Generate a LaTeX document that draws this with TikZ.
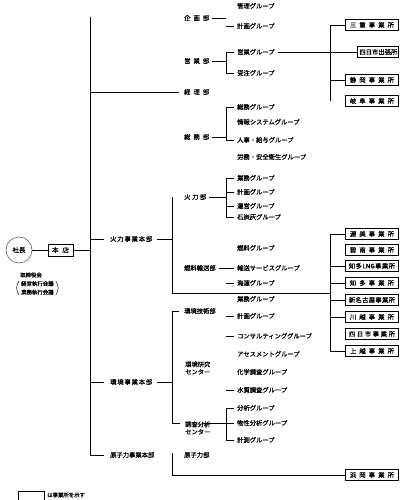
\documentclass[tikz,border=0pt]{standalone}
\usepackage{fontspec}
\setmainfont{Noto Sans CJK JP}[FakeBold=0.6]
\newcommand\sprd[2]{\makebox[#1][s]{#2}}
\begin{document}
\begin{tikzpicture}[x=1pt,y=-1pt,
  txt/.style={anchor=west, inner sep=0pt, font=\fontsize{6.3}{7.5}\selectfont},
  dept/.style={txt},
  grp/.style={txt},
  small/.style={anchor=west, inner sep=0pt, font=\fontsize{5.4}{8.5}\selectfont},
  office/.style={draw, line width=0.9pt, minimum width=53pt, minimum height=11pt, inner sep=0pt, anchor=west, font=\fontsize{6.3}{7}\selectfont},
  ln/.style={line width=0.9pt}]
\useasboundingbox (0,0) rectangle (407,500);
\fill[white] (0,0) rectangle (407,500);

% bus coordinates
\coordinate (mtop) at (90,17);
\coordinate (gx) at (226,0);
\coordinate (hx) at (172,0);
\coordinate (ux) at (330,0);

% president and head office
\node[circle, draw=black!70, line width=0.5pt, minimum size=26pt, inner sep=0pt, font=\fontsize{6.5}{7}\selectfont] (shacho) at (19,250) {社長};
\node[draw, line width=0.9pt, minimum width=25pt, minimum height=12pt, inner sep=0pt, font=\fontsize{6.5}{7}\selectfont] (honten) at (60.5,250) {\sprd{17pt}{本\hfill 店}};
\draw[ln] (shacho) -- (honten);
\draw[ln] (honten.east) -- (honten.east -| mtop);
\node[small] (torishimari) at (20,275) {取締役会};
\node[small, align=left] (kaigi) at (21,288) {経営執行会議\\業務執行会議};
\draw[line width=0.5pt] ([xshift=-2pt]kaigi.north west) to[bend right=35] ([xshift=-2pt]kaigi.south west);
\draw[line width=0.5pt] ([xshift=2pt]kaigi.north east) to[bend left=35] ([xshift=2pt]kaigi.south east);

% headquarters level nodes
\node[dept] (kh) at (110,239) {\sprd{42pt}{火\hfill 力\hfill 事\hfill 業\hfill 本\hfill 部}};
\node[dept] (vh) at (110,382) {\sprd{42pt}{環\hfill 境\hfill 事\hfill 業\hfill 本\hfill 部}};
\node[dept] (gh) at (110,455) {\sprd{44pt}{原\hfill 子\hfill 力\hfill 事\hfill 業\hfill 本\hfill 部}};

% main vertical
\draw[ln] (mtop) -- (mtop |- gh.west) -- ([xshift=-6pt]gh.west);

% departments (top)
\node[dept] (kikaku) at (184,18) {\sprd{25pt}{企\hfill 画\hfill 部}};
\node[dept] (eigyo) at (184,61) {\sprd{25pt}{営\hfill 業\hfill 部}};
\node[dept] (keiri) at (184,92) {\sprd{25pt}{経\hfill 理\hfill 部}};
\node[dept] (somu) at (184,137) {\sprd{25pt}{総\hfill 務\hfill 部}};

% groups (top)
\node[grp] (k1) at (237,6) {管理グループ};
\node[grp] (k2) at (237,26) {計画グループ};
\node[grp] (e1) at (237,52) {営業グループ};
\node[grp] (e2) at (237,73) {受注グループ};
\node[grp] (s1) at (237,107) {総務グループ};
\node[grp] (s2) at (237,122) {情報システムグループ};
\node[grp] (s3) at (237,140) {人事・給与グループ};
\node[grp] (s4) at (237,157) {労務・安全衛生グループ};

\draw[ln] ([xshift=3pt]kikaku.east) -- (kikaku.east -| gx);
\draw[ln] ([xshift=-11pt]k2.west) -- ([xshift=-3pt]k2.west);
\draw[ln] ([xshift=3pt]eigyo.east) -- (eigyo.east -| gx);
\draw[ln] ([xshift=-3pt]e1.west) -- (e1.west -| gx) -- (e2.west -| gx) -- ([xshift=-3pt]e2.west);
\draw[ln] (keiri.west -| mtop) -- ([xshift=-5pt]keiri.west);
\draw[ln] ([xshift=3pt]somu.east) -- (somu.east -| gx);
\draw[ln] ([xshift=-3pt]s1.west) -- (s1.west -| gx) -- (s3.west -| gx) -- ([xshift=-3pt]s3.west);

% upper offices
\node[office] (o1) at (345,25) {\sprd{44pt}{三\hfill 重\hfill 事\hfill 業\hfill 所}};
\node[office, minimum width=41pt] (o2) at (357,52) {\sprd{37pt}{四\hfill 日\hfill 市\hfill 出\hfill 張\hfill 所}};
\node[office] (o3) at (345,80) {\sprd{44pt}{静\hfill 岡\hfill 事\hfill 業\hfill 所}};
\node[office] (o4) at (345,101) {\sprd{44pt}{岐\hfill 阜\hfill 事\hfill 業\hfill 所}};
\draw[ln] (o1.west) -- (o1.west -| ux) -- (o4.west -| ux);
\draw[ln] (o3.west -| ux) -- (o3.west);
\draw[ln] ([xshift=3pt]e1.east) -- (o2.west);

% thermal
\node[dept] (kb) at (184,197) {\sprd{22pt}{火\hfill 力\hfill 部}};
\node[dept] (nb) at (184,268) {燃料輸送部};
\node[grp] (kb1) at (237,178) {業務グループ};
\node[grp] (kb2) at (237,192) {計画グループ};
\node[grp] (kb3) at (237,206) {運営グループ};
\node[grp] (kb4) at (237,217) {石炭灰グループ};
\node[grp] (nb1) at (237,248) {燃料グループ};
\node[grp] (nb2) at (237,268) {輸送サービスグループ};
\node[grp] (nb3) at (237,283) {海運グループ};
\coordinate (kj) at (330,293);

\draw[ln] (kh.west -| mtop) -- ([xshift=-6pt]kh.west);
\draw[ln] ([xshift=5pt]kh.east) -- (kh.east -| hx);
\draw[ln] (kb.west -| hx) -- (hx |- kj) -- (kj);
\draw[ln] ([xshift=3pt]kb.east) -- (kb.east -| gx);
\draw[ln] ([xshift=-3pt]kb1.west) -- (kb1.west -| gx) -- (kb4.west -| gx) -- ([xshift=-3pt]kb4.west);
\draw[ln] (kb2.west -| gx) -- ([xshift=-3pt]kb2.west);
\draw[ln] (kb3.west -| gx) -- ([xshift=-3pt]kb3.west);
\draw[ln] ([xshift=3pt]nb.east) -- ([xshift=-3pt]nb2.west);
\draw[ln] ([xshift=-11pt]nb3.west) -- ([xshift=-3pt]nb3.west);

% lower offices
\node[office] (p1) at (345,234) {\sprd{44pt}{渥\hfill 美\hfill 事\hfill 業\hfill 所}};
\node[office] (p2) at (345,250) {\sprd{44pt}{碧\hfill 南\hfill 事\hfill 業\hfill 所}};
\node[office] (p3) at (345,266) {\sprd{46pt}{知\hfill 多\hfill LNG\hfill 事\hfill 業\hfill 所}};
\node[office] (p4) at (345,283) {\sprd{44pt}{知\hfill 多\hfill 事\hfill 業\hfill 所}};
\node[office] (p5) at (345,300) {\sprd{46pt}{新\hfill 名\hfill 古\hfill 屋\hfill 事\hfill 業\hfill 所}};
\node[office] (p6) at (345,317) {\sprd{44pt}{川\hfill 越\hfill 事\hfill 業\hfill 所}};
\node[office] (p7) at (345,334) {\sprd{46pt}{四\hfill 日\hfill 市\hfill 事\hfill 業\hfill 所}};
\node[office] (p8) at (345,351) {\sprd{44pt}{上\hfill 越\hfill 事\hfill 業\hfill 所}};
\draw[ln] (p1.west) -- (p1.west -| ux) -- (p8.west -| ux) -- (p8.west);
\draw[ln] (p3.west -| ux) -- (p3.west);
\draw[ln] (p4.west -| ux) -- (p4.west);
\draw[ln] (p5.west -| ux) -- (p5.west);
\draw[ln] (p6.west -| ux) -- (p6.west);

% environment
\node[dept] (vb) at (184,311) {環境技術部};
\node[dept, align=left] (vc) at (185,368) {環境研究\\センター};
\node[dept, align=left] (va) at (185,428) {調査分析\\センター};
\node[grp] (vb1) at (237,299) {業務グループ};
\node[grp] (vb2) at (237,316) {計画グループ};
\node[grp] (vb3) at (237,336) {コンサルティンググループ};
\node[grp] (vc1) at (237,354) {アセスメントグループ};
\node[grp] (vc2) at (237,372) {化学調査グループ};
\node[grp] (vc3) at (237,390) {水質調査グループ};
\node[grp] (va1) at (237,408) {分析グループ};
\node[grp] (va2) at (237,423) {物性分析グループ};
\node[grp] (va3) at (237,440) {計測グループ};
\coordinate (vend) at (172,423);

\draw[ln] (vh.west -| mtop) -- ([xshift=-6pt]vh.west);
\draw[ln] ([xshift=5pt]vh.east) -- (vh.east -| hx);
\draw[ln] ([xshift=-5pt]vb.west) -- (vb.west -| hx) -- (vend) -- ([xshift=8pt]vend);
\draw[ln] ([xshift=-11pt]vb2.west) -- ([xshift=-3pt]vb2.west);
\draw[ln] ([xshift=-11pt]vb3.west) -- ([xshift=-3pt]vb3.west);
\draw[ln] ([xshift=-11pt]vc3.west) -- ([xshift=-3pt]vc3.west);
\draw[ln] ([xshift=-9pt]va2.west -| va.east) -- (va2.west -| gx);
\draw[ln] ([xshift=-3pt]va1.west) -- (va1.west -| gx) -- (va3.west -| gx) -- ([xshift=-3pt]va3.west);
\draw[ln] (va2.west -| gx) -- ([xshift=-3pt]va2.west);

% nuclear
\node[dept] (gb) at (184,455) {\sprd{25pt}{原\hfill 子\hfill 力\hfill 部}};
\node[office] (hm) at (345,475) {\sprd{44pt}{浜\hfill 岡\hfill 事\hfill 業\hfill 所}};
\draw[ln] ([yshift=2pt]gb.west -| hx) -- (hm.west -| hx) -- (hm.west);

% legend
\node[draw, line width=0.6pt, minimum width=26pt, minimum height=14pt, anchor=north west, inner sep=0pt] (leg) at (18,491) {};
\node[small] (legt) at (47,495) {は事業所を示す};
\end{tikzpicture}
\end{document}
